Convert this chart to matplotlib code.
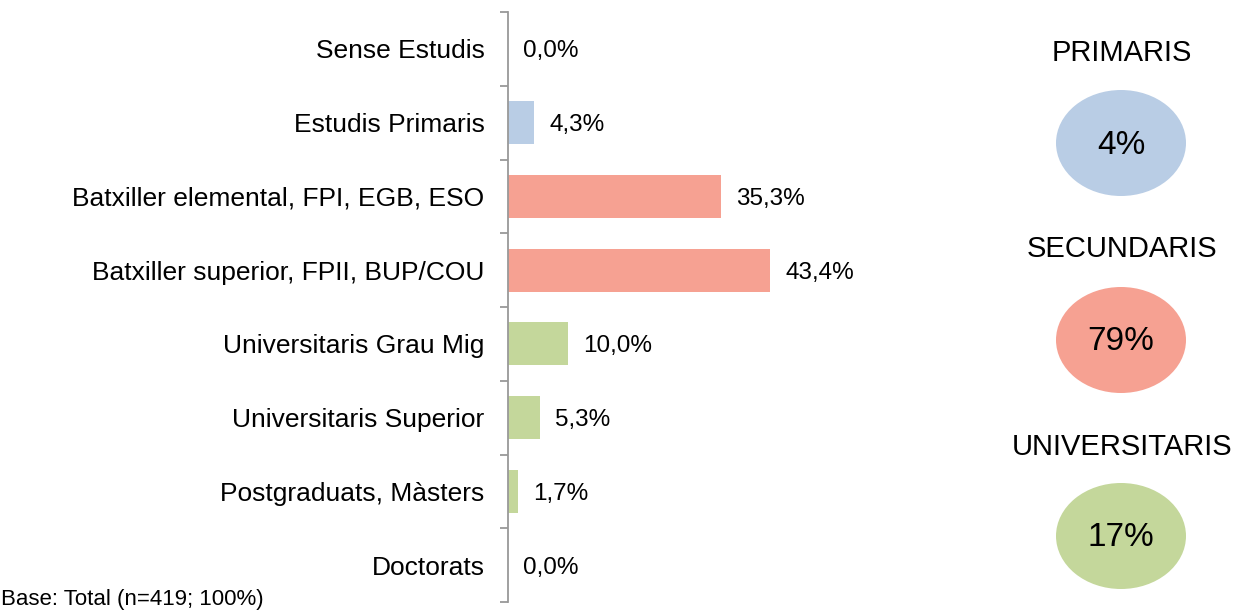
import matplotlib
matplotlib.use("Agg")
import matplotlib.pyplot as plt
from matplotlib.patches import Ellipse

plt.rcParams['font.family'] = ['Liberation Sans', 'DejaVu Sans']

categories = ["Sense Estudis", "Estudis Primaris", "Batxiller elemental, FPI, EGB, ESO",
              "Batxiller superior, FPII, BUP/COU", "Universitaris Grau Mig",
              "Universitaris Superior", "Postgraduats, Màsters", "Doctorats"]
values = [0.0, 4.3, 35.3, 43.4, 10.0, 5.3, 1.7, 0.0]
groups = ["P", "P", "S", "S", "U", "U", "U", "U"]
group_titles = ["PRIMARIS", "SECUNDARIS", "UNIVERSITARIS"]
group_values = ["4%", "79%", "17%"]
base_text = "Base: Total (n=419; 100%)"

colors = {"P": "#B9CDE5", "S": "#F6A192", "U": "#C4D79B"}
group_colors = ["#B9CDE5", "#F6A192", "#C4D79B"]

W, H = 1239, 612
fig = plt.figure(figsize=(W/100, H/100), dpi=100)

ax_left, ax_right = 508, 508 + 6.04*65
ax_top, ax_bot = 12, 602
ax = fig.add_axes([ax_left/W, (H-ax_bot)/H, (ax_right-ax_left)/W, (ax_bot-ax_top)/H])
n = len(categories)
ypos = list(range(n))
ax.barh(ypos, values, height=0.58, color=[colors[g] for g in groups])
ax.set_xlim(0, 65)
ax.set_ylim(n-0.5, -0.5)
for y, v in zip(ypos, values):
    ax.text(v + 2.5, y + 0.035, f"{v:.1f}%".replace(".", ","), va="center", ha="left", fontsize=17.5)
ax.set_yticks(ypos)
ax.set_yticklabels(categories, fontsize=19)
ax.set_yticks([i - 0.5 for i in range(n+1)], minor=True)
ax.tick_params(axis="y", which="major", length=0, pad=17)
ax.tick_params(axis="y", which="minor", length=6, width=1.3, color="#999999")
ax.set_xticks([])
for s in ["top", "right", "bottom"]:
    ax.spines[s].set_visible(False)
ax.spines["left"].set_color("#999999")
ax.spines["left"].set_linewidth(1.3)

# right panel
rax = fig.add_axes([0, 0, 1, 1])
rax.set_xlim(0, W)
rax.set_ylim(H, 0)
rax.axis("off")
title_y = [53, 249, 447]
ell_y = [143, 340, 536]
for t, v, c, ty, ey in zip(group_titles, group_values, group_colors, title_y, ell_y):
    rax.text(1122, ty, t, ha="center", va="center", fontsize=21)
    rax.add_patch(Ellipse((1121, ey), 130, 106, facecolor=c, edgecolor="none"))
    rax.text(1121, ey + 2, v, ha="center", va="center", fontsize=24)

rax.text(1, 610.5, base_text, ha="left", va="bottom", fontsize=16)

fig.savefig("out.png", dpi=100)
